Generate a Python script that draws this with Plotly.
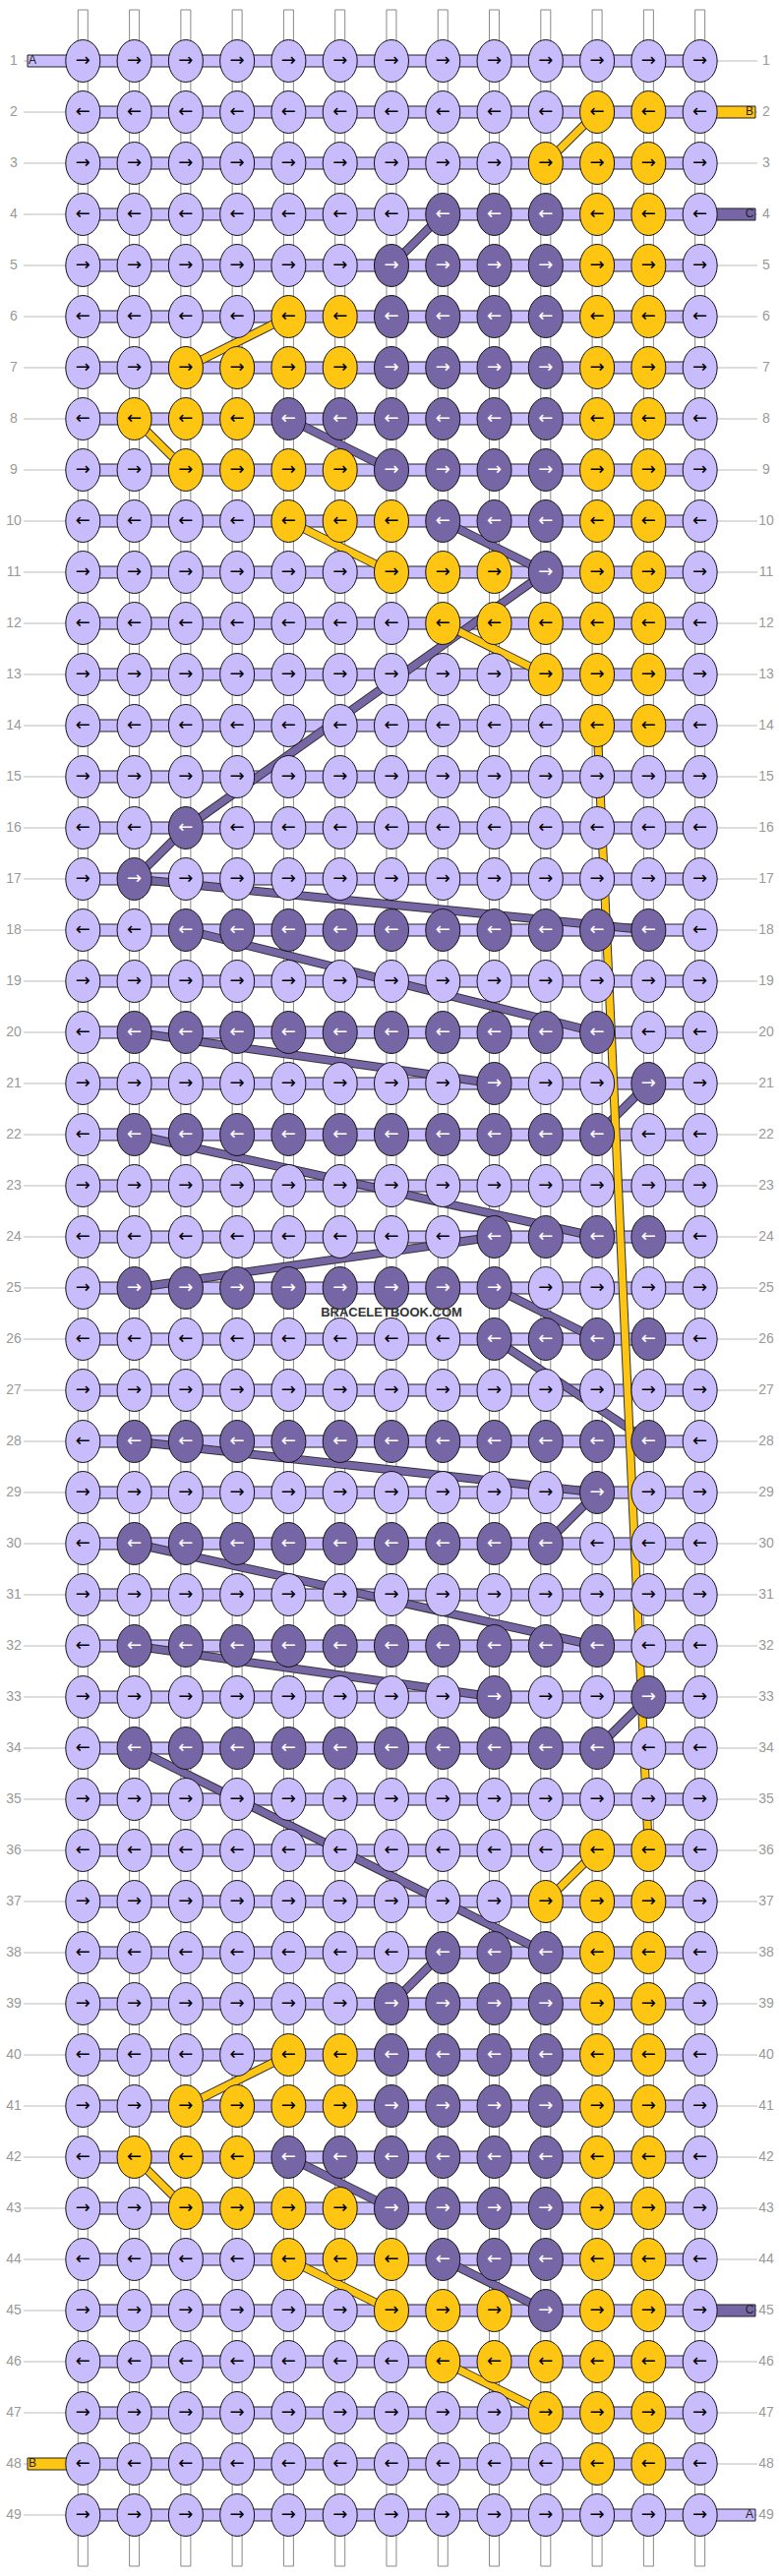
import plotly.graph_objects as go

# knot colours per row, L = lavender, D = dark purple, Y = yellow
rows = [
    "LLLLLLLLLLLLL", "LLLLLLLLLLYYL", "LLLLLLLLLYYYL", "LLLLLLLDDDYYL",
    "LLLLLLDDDDYYL", "LLLLYYDDDDYYL", "LLYYYYDDDDYYL", "LYYYDDDDDDYYL",
    "LLYYYYDDDDYYL", "LLLLYYYDDDYYL", "LLLLLLYYYDYYL", "LLLLLLLYYYYYL",
    "LLLLLLLLLYYYL", "LLLLLLLLLLYYL", "LLLLLLLLLLLLL", "LLDLLLLLLLLLL",
    "LDLLLLLLLLLLL", "LLDDDDDDDDDDL", "LLLLLLLLLLLLL", "LDDDDDDDDDDLL",
    "LLLLLLLLDLLDL", "LDDDDDDDDDDLL", "LLLLLLLLLLLLL", "LLLLLLLLDDDDL",
    "LDDDDDDDDLLLL", "LLLLLLLLDDDDL", "LLLLLLLLLLLLL", "LDDDDDDDDDDDL",
    "LLLLLLLLLLDLL", "LDDDDDDDDDLLL", "LLLLLLLLLLLLL", "LDDDDDDDDDDLL",
    "LLLLLLLLDLLDL", "LDDDDDDDDDDLL", "LLLLLLLLLLLLL", "LLLLLLLLLLYYL",
    "LLLLLLLLLYYYL", "LLLLLLLDDDYYL", "LLLLLLDDDDYYL", "LLLLYYDDDDYYL",
    "LLYYYYDDDDYYL", "LYYYDDDDDDYYL", "LLYYYYDDDDYYL", "LLLLYYYDDDYYL",
    "LLLLLLYYYDYYL", "LLLLLLLYYYYYL", "LLLLLLLLLYYYL", "LLLLLLLLLLYYL",
    "LLLLLLLLLLLLL",
]

# strands jumping between knots: (row1, col1, row2, col2, colour)
strands = [
    (2, 11, 3, 10, "Y"), (4, 8, 5, 7, "D"), (6, 5, 7, 3, "Y"), (8, 2, 9, 3, "Y"),
    (8, 5, 9, 7, "D"), (10, 5, 11, 7, "Y"), (10, 8, 11, 10, "D"), (11, 10, 16, 3, "D"),
    (12, 8, 13, 10, "Y"), (16, 3, 17, 2, "D"), (17, 2, 18, 12, "D"), (18, 3, 20, 11, "D"),
    (20, 2, 21, 9, "D"), (21, 12, 22, 11, "D"), (22, 2, 24, 11, "D"), (24, 9, 25, 2, "D"),
    (25, 9, 26, 11, "D"), (26, 9, 28, 12, "D"), (28, 2, 29, 11, "D"), (29, 11, 30, 10, "D"),
    (30, 2, 32, 11, "D"), (32, 2, 33, 9, "D"), (33, 12, 34, 11, "D"), (34, 2, 38, 10, "D"),
    (36, 11, 37, 10, "Y"), (38, 8, 39, 7, "D"), (40, 5, 41, 3, "Y"), (42, 2, 43, 3, "Y"),
    (42, 5, 43, 7, "D"), (44, 5, 45, 7, "Y"), (44, 8, 45, 10, "D"), (46, 8, 47, 10, "Y"),
    (14, 11, 36, 12, "Y"),
]

# loose thread ends at the sides: (row, side, label, colour)
ends = [(1, "left", "A", "L"), (2, "right", "B", "Y"), (4, "right", "C", "D"),
        (45, "right", "C", "D"), (48, "left", "B", "Y"), (49, "right", "A", "L")]

colors = {"L": "#c9bcfc", "D": "#7766a6", "Y": "#fec612"}

X0, DX = 84.3, 52.28
Y0, DY = 62, 52.0
RX, RY = 17.5, 21.5
n_rows, n_cols = len(rows), len(rows[0])

def kx(c):
    return X0 + DX * (c - 1)

def ky(r):
    return Y0 + DY * (r - 1)

shapes = []
# vertical white threads
for c in range(1, n_cols + 1):
    shapes.append(dict(type="rect", x0=kx(c) - 5, x1=kx(c) + 5, y0=ky(1) - 52, y1=ky(n_rows) + 52,
                       fillcolor="white", line=dict(color="#888", width=1), layer="below"))
# row lines and bands
for r in range(1, n_rows + 1):
    shapes.append(dict(type="line", x0=24, x1=kx(1), y0=ky(r), y1=ky(r), line=dict(color="#bbb", width=1), layer="below"))
    shapes.append(dict(type="line", x0=kx(n_cols), x1=770, y0=ky(r), y1=ky(r), line=dict(color="#bbb", width=1), layer="below"))
    shapes.append(dict(type="rect", x0=kx(1), x1=kx(n_cols), y0=ky(r) - 6, y1=ky(r) + 6,
                       fillcolor=colors["L"], line=dict(color="#222", width=1), layer="below"))
for r, side, lab, col in ends:
    if side == "left":
        a, b = 28, kx(1)
    else:
        a, b = kx(n_cols), 768
    shapes.append(dict(type="rect", x0=a, x1=b, y0=ky(r) - 6, y1=ky(r) + 6,
                       fillcolor=colors[col], line=dict(color="#222", width=1), layer="below"))
# diagonal strands
for r1, c1, r2, c2, col in strands:
    for w, lc in [(9, "#333"), (7, colors[col])]:
        shapes.append(dict(type="line", x0=kx(c1), y0=ky(r1), x1=kx(c2), y1=ky(r2),
                           line=dict(color=lc, width=w), layer="below"))
# knots
for r, row in enumerate(rows, start=1):
    for c, k in enumerate(row, start=1):
        shapes.append(dict(type="circle", x0=kx(c) - RX, x1=kx(c) + RX, y0=ky(r) - RY, y1=ky(r) + RY,
                           fillcolor=colors[k], line=dict(color="#111", width=1), layer="below"))

fig = go.Figure()
for shade, tc in [("dark", "white"), ("light", "black")]:
    xs, ys, ts = [], [], []
    for r, row in enumerate(rows, start=1):
        for c, k in enumerate(row, start=1):
            if (k == "D") == (shade == "dark"):
                xs.append(kx(c))
                ys.append(ky(r))
                ts.append("→" if r % 2 == 1 else "←")
    fig.add_trace(go.Scatter(x=xs, y=ys, text=ts, mode="text", hoverinfo="skip",
                             textfont=dict(family="DejaVu Sans", size=18, color=tc)))

nums = list(range(1, n_rows + 1))
fig.add_trace(go.Scatter(x=[14] * n_rows, y=[ky(r) for r in nums], text=[str(r) for r in nums], mode="text",
                         cliponaxis=False, textfont=dict(family="Liberation Sans", size=14, color="#999")))
fig.add_trace(go.Scatter(x=[779] * n_rows, y=[ky(r) for r in nums], text=[str(r) for r in nums], mode="text",
                         cliponaxis=False, textfont=dict(family="Liberation Sans", size=14, color="#999")))
fig.add_trace(go.Scatter(
    x=[33 if s == "left" else 762 for r, s, l, c in ends], y=[ky(r) for r, s, l, c in ends],
    text=[l for r, s, l, c in ends], mode="text",
    textfont=dict(family="Liberation Sans", size=12, color="#222")))
fig.add_trace(go.Scatter(x=[398], y=[1336], text=["<b>BRACELETBOOK.COM</b>"], mode="text",
                         textfont=dict(family="Liberation Sans Narrow, Liberation Sans", size=13, color="#333")))

fig.update_layout(
    width=792, height=2620, margin=dict(l=0, r=0, t=0, b=0),
    plot_bgcolor="white", paper_bgcolor="white", showlegend=False, shapes=shapes,
    xaxis=dict(range=[0, 792], visible=False, fixedrange=True),
    yaxis=dict(range=[2620, 0], visible=False, fixedrange=True),
)
fig.write_html("out.html", config={"displayModeBar": False},
               post_script="document.body.style.margin='0';document.body.style.overflow='hidden';")
